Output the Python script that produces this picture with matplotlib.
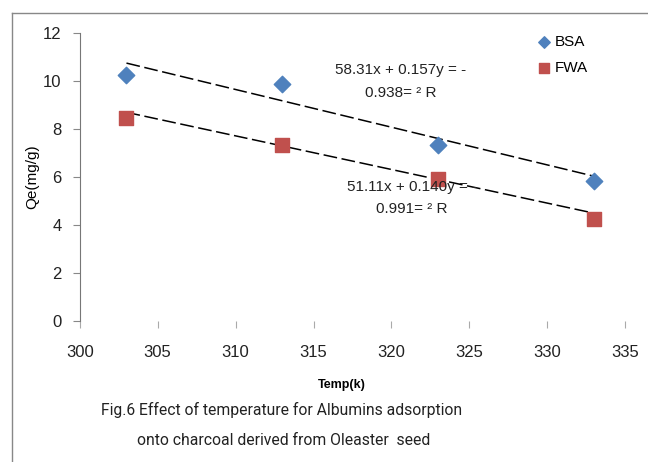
import numpy as np
import matplotlib.pyplot as plt
from matplotlib.lines import Line2D

plt.rcParams['font.family'] = ['Liberation Sans', 'DejaVu Sans']

temps = [303, 313, 323, 333]
bsa = [10.25, 9.85, 7.35, 5.85]
fwa = [8.45, 7.35, 5.9, 4.25]

# linear trendlines (y = a*x + b)
bsa_fit = (-0.157, 58.31)
fwa_fit = (-0.140, 51.11)
bsa_label = ["58.31x + 0.157y = -", "0.938= \u00b2 R"]
fwa_label = ["51.11x + 0.140y = -", "0.991= \u00b2 R"]

xticks = [300, 305, 310, 315, 320, 325, 330, 335]
yticks = [0, 2, 4, 6, 8, 10, 12]

fig = plt.figure(figsize=(6.48, 4.62), dpi=100)
ax = fig.add_axes([0.123, 0.305, 0.842, 0.624])

tx = np.array([temps[0], temps[-1]])
for a, b in (bsa_fit, fwa_fit):
    ax.plot(tx, a * tx + b, color='black', lw=1.1, dashes=(9, 3), zorder=2)

ax.scatter(temps, bsa, marker='D', s=70, color='#4F81BD', zorder=3, label='BSA')
ax.scatter(temps, fwa, marker='s', s=110, color='#C0504D', zorder=3, label='FWA')

txt = dict(ha='center', va='center', fontsize=11, color='#222222')
ax.text(320.6, 10.45, bsa_label[0], **txt)
ax.text(320.6, 9.5, bsa_label[1], **txt)
ax.text(321.3, 5.6, fwa_label[0], **txt)
ax.text(321.3, 4.65, fwa_label[1], **txt)

ax.set_xlim(300, 335)
ax.set_ylim(0, 12)
ax.set_xticks(xticks)
ax.set_yticks(yticks)
ax.tick_params(axis='both', labelsize=12, colors='#222222', length=5, width=0.8)
ax.tick_params(axis='x', color='#aaaaaa', pad=12)
ax.tick_params(axis='y', color='#888888', pad=8)

for side in ('top', 'right', 'bottom'):
    ax.spines[side].set_visible(False)
ax.spines['left'].set_color('#777777')

ax.set_ylabel('Qe(mg/g)', fontsize=11)
ax.yaxis.set_label_coords(-0.075, 0.5)
ax.set_xlabel('Temp(k)', fontsize=9, fontweight='bold')
ax.xaxis.set_label_coords(0.48, -0.2)

ax.legend(loc='upper left', bbox_to_anchor=(0.815, 1.03), frameon=False, fontsize=11,
          handletextpad=0.1, handlelength=1.2, labelspacing=0.8, borderpad=0.2,
          markerscale=0.7)

cap = dict(ha='center', va='center', fontsize=11.3, color='#222222',
           family=['Roboto', 'DejaVu Sans'])
fig.text(0.435, 0.113, 'Fig.6 Effect of temperature for Albumins adsorption', **cap)
fig.text(0.437, 0.047, 'onto charcoal derived from Oleaster  seed', **cap)

# outer frame
fig.add_artist(Line2D([12 / 648, 12 / 648], [0, 1 - 13 / 462], transform=fig.transFigure,
                      color='#888888', lw=1))
fig.add_artist(Line2D([12 / 648, 1], [1 - 13 / 462, 1 - 13 / 462], transform=fig.transFigure,
                      color='#888888', lw=1))

fig.savefig('out.png', dpi=100)
